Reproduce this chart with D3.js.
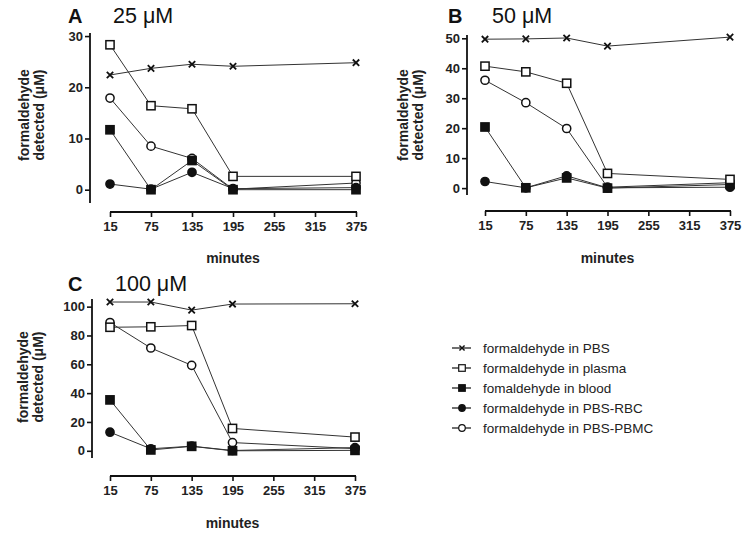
<!DOCTYPE html>
<html>
<head>
<meta charset="utf-8">
<script src="https://cdn.jsdelivr.net/npm/d3@7"></script>
<style>
  html, body { margin: 0; padding: 0; background: #ffffff; }
  svg { display: block; font-family: "Liberation Sans", Arial, Helvetica, sans-serif; }
</style>
</head>
<body>
<svg id="chart" width="754" height="544"></svg>
<script>
// ---------- DATA ----------
const times = [15, 75, 135, 195, 375];
const xTicks = [15, 75, 135, 195, 255, 315, 375];
const seriesNames = [
  "formaldehyde in PBS",
  "formaldehyde in plasma",
  "fomaldehyde in blood",
  "formaldehyde in PBS-RBC",
  "formaldehyde in PBS-PBMC"
];
const seriesMarkers = ["x", "openSquare", "filledSquare", "filledCircle", "openCircle"];

const panelLetters = ["A", "B", "C"];
const panelTitles = ["25 \u03BCM", "50 \u03BCM", "100 \u03BCM"];

// panel A (25 µM)
const a_PBS    = [22.4, 23.7, 24.5, 24.1, 24.8];
const a_plasma = [28.3, 16.4, 15.8, 2.6, 2.6];
const a_blood  = [11.7, 0.0, 5.7, 0.0, 0.0];
const a_RBC    = [1.1, 0.1, 3.4, 0.2, 0.4];
const a_PBMC   = [17.9, 8.5, 6.1, 0.1, 1.3];

// panel B (50 µM)
const b_PBS    = [49.7, 49.8, 50.1, 47.4, 50.4];
const b_plasma = [40.7, 38.8, 35.0, 4.9, 2.9];
const b_blood  = [20.4, 0.1, 3.4, 0.0, 1.2];
const b_RBC    = [2.2, 0.1, 4.1, 0.1, 0.3];
const b_PBMC   = [36.0, 28.5, 19.9, 0.3, 1.8];

// panel C (100 µM)
const c_PBS    = [103.2, 103.2, 97.6, 101.8, 102.0];
const c_plasma = [85.7, 86.0, 86.9, 15.5, 9.5];
const c_blood  = [35.3, 0.6, 3.1, 0.0, 0.3];
const c_RBC    = [12.9, 1.4, 3.2, 0.2, 2.2];
const c_PBMC   = [89.0, 71.3, 59.3, 5.7, 1.5];

const yTicksA = [0, 10, 20, 30];
const yTicksB = [0, 10, 20, 30, 40, 50];
const yTicksC = [0, 20, 40, 60, 80, 100];
const yDomainA = [-2.6, 30.6];
const yDomainB = [-2.3, 51.1];
const yDomainC = [-5, 105.3];

// ---------- LAYOUT ----------
const svg = d3.select("#chart");
const panels = [
  { letter: panelLetters[0], title: panelTitles[0], series: [a_PBS, a_plasma, a_blood, a_RBC, a_PBMC],
    yTicks: yTicksA, yDomain: yDomainA,
    x0: 110, x1: 356, yTop: 33, yBot: 203, xAxisY: 212, yAxisX: 90,
    letterX: 68, titleX: 113, titleY: 23, labelX: 24, labelY: 115, minutesY: 258 },
  { letter: panelLetters[1], title: panelTitles[1], series: [b_PBS, b_plasma, b_blood, b_RBC, b_PBMC],
    yTicks: yTicksB, yDomain: yDomainB,
    x0: 485, x1: 730, yTop: 35, yBot: 195, xAxisY: 211, yAxisX: 467,
    letterX: 448, titleX: 492, titleY: 23, labelX: 403, labelY: 115, minutesY: 258 },
  { letter: panelLetters[2], title: panelTitles[2], series: [c_PBS, c_plasma, c_blood, c_RBC, c_PBMC],
    yTicks: yTicksC, yDomain: yDomainC,
    x0: 110, x1: 355, yTop: 299, yBot: 458, xAxisY: 476, yAxisX: 92,
    letterX: 68, titleX: 115, titleY: 291, labelX: 23, labelY: 377, minutesY: 523 }
];

function drawMarker(g, type, x, y) {
  const s = 4.1;
  if (type === "x") {
    const r = 3.2;
    g.append("path")
      .attr("d", `M${x - r},${y - r}L${x + r},${y + r}M${x - r},${y + r}L${x + r},${y - r}`)
      .attr("stroke", "#111").attr("stroke-width", 1.8).attr("fill", "none");
  } else if (type === "openSquare" || type === "filledSquare") {
    g.append("rect")
      .attr("x", x - s).attr("y", y - s).attr("width", 2 * s).attr("height", 2 * s)
      .attr("fill", type === "openSquare" ? "#fff" : "#111")
      .attr("stroke", "#111").attr("stroke-width", 1.5);
  } else {
    g.append("circle")
      .attr("cx", x).attr("cy", y).attr("r", 4.1)
      .attr("fill", type === "openCircle" ? "#fff" : "#111")
      .attr("stroke", "#111").attr("stroke-width", 1.5);
  }
}

panels.forEach(p => {
  const g = svg.append("g");
  const x = d3.scaleLinear().domain([15, 375]).range([p.x0, p.x1]);
  const y = d3.scaleLinear().domain(p.yDomain).range([p.yBot, p.yTop]);

  // y axis
  const yAxis = g.append("g")
    .attr("transform", `translate(${p.yAxisX},0)`)
    .call(d3.axisLeft(y).tickValues(p.yTicks).tickSize(5).tickPadding(2).tickFormat(d3.format("d")));
  yAxis.select(".domain").attr("d", `M0,${p.yTop}V${p.yBot}`).attr("stroke", "#111").attr("stroke-width", 1.8);
  yAxis.selectAll(".tick line").attr("stroke", "#111").attr("stroke-width", 1.6);
  yAxis.selectAll(".tick text").attr("font-size", 13).attr("font-weight", "bold").attr("fill", "#222")
    .attr("font-family", "Liberation Sans, Arial, sans-serif");

  // x axis
  const xAxis = g.append("g")
    .attr("transform", `translate(0,${p.xAxisY})`)
    .call(d3.axisBottom(x).tickValues(xTicks).tickSize(5).tickPadding(5).tickFormat(d3.format("d")));
  xAxis.select(".domain").attr("d", `M${p.x0},0H${p.x1 + 1}`).attr("stroke", "#111").attr("stroke-width", 1.8);
  xAxis.selectAll(".tick line").attr("stroke", "#111").attr("stroke-width", 1.6);
  xAxis.selectAll(".tick text").attr("font-size", 13).attr("font-weight", "bold").attr("fill", "#222")
    .attr("font-family", "Liberation Sans, Arial, sans-serif");

  // x label
  g.append("text").attr("x", (p.x0 + p.x1) / 2).attr("y", p.minutesY)
    .attr("text-anchor", "middle").attr("dominant-baseline", "central")
    .attr("font-size", 14).attr("font-weight", "bold").attr("fill", "#222").text("minutes");

  // y label (two lines)
  const yl = g.append("text")
    .attr("transform", `translate(${p.labelX},${p.labelY}) rotate(-90)`)
    .attr("text-anchor", "middle").attr("font-size", 14).attr("font-weight", "bold").attr("fill", "#222");
  yl.append("tspan").attr("x", 0).attr("dy", "0.35em").text("formaldehyde");
  yl.append("tspan").attr("x", 0).attr("dy", "1.1em").text("detected (\u03BCM)");

  // panel letter & title
  g.append("text").attr("x", p.letterX).attr("y", p.titleY)
    .attr("font-size", 20).attr("font-weight", "bold").attr("fill", "#111").text(p.letter);
  g.append("text").attr("x", p.titleX).attr("y", p.titleY)
    .attr("font-size", 21.5).attr("fill", "#111").text(p.title);

  // series lines
  const line = d3.line().x((d, i) => x(times[i])).y(d => y(d));
  p.series.forEach(vals => {
    g.append("path").attr("d", line(vals)).attr("fill", "none")
      .attr("stroke", "#333").attr("stroke-width", 1);
  });
  // markers
  const order = [4, 3, 2, 1, 0];
  order.forEach(si => {
    p.series[si].forEach((v, i) => drawMarker(g, seriesMarkers[si], x(times[i]), y(v)));
  });
});

// ---------- LEGEND ----------
const lg = svg.append("g");
const legendY = d3.scalePoint().domain(seriesNames).range([348, 428]);
seriesNames.forEach((name, i) => {
  const cy = legendY(name);
  lg.append("line").attr("x1", 452).attr("x2", 471).attr("y1", cy).attr("y2", cy)
    .attr("stroke", "#222").attr("stroke-width", 1.3);
  const mg = lg.append("g").attr("transform", `translate(462,${cy}) scale(0.8) translate(-462,${-cy})`);
  drawMarker(mg, seriesMarkers[i], 462, cy);
  lg.append("text").attr("x", 483).attr("y", cy).attr("dominant-baseline", "central")
    .attr("font-size", 13.5).attr("fill", "#222").text(name);
});
</script>
</body>
</html>
